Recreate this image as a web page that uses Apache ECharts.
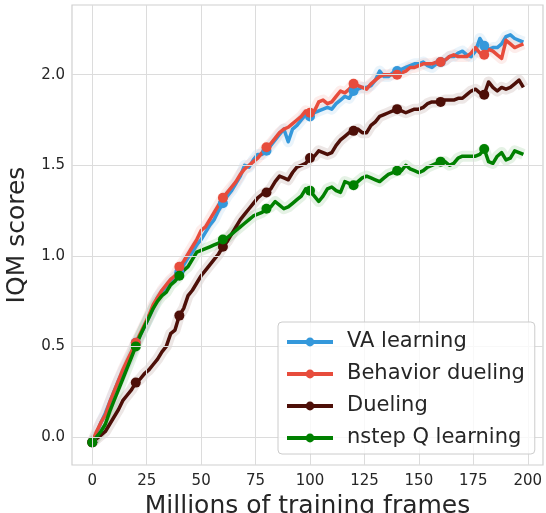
<!DOCTYPE html>
<html>
<head>
<meta charset="utf-8">
<script src="https://cdn.jsdelivr.net/npm/echarts@6/dist/echarts.min.js"></script>
<style>
  html, body { margin: 0; padding: 0; background: #fff; }
  #chart { width: 546px; height: 513px; }
</style>
</head>
<body>
<div id="chart"></div>
<script>
// Millions of training frames (0, 2, ..., 198)
const frames = [];
for (let i = 0; i < 100; i++) frames.push(i * 2);

const seriesNames = ['VA learning', 'Behavior dueling', 'Dueling', 'nstep Q learning'];

const vaLearning = [
  -0.03, 0.02, 0.08, 0.13, 0.19, 0.25, 0.31, 0.36, 0.41, 0.46,
  0.52, 0.56, 0.61, 0.66, 0.71, 0.77, 0.80, 0.83, 0.86, 0.88,
  0.91, 0.95, 0.99, 1.02, 1.06, 1.09, 1.13, 1.17, 1.20, 1.25,
  1.29, 1.33, 1.36, 1.40, 1.44, 1.50, 1.49, 1.53, 1.56, 1.56,
  1.58, 1.61, 1.64, 1.67, 1.70, 1.63, 1.70, 1.72, 1.75, 1.78,
  1.77, 1.79, 1.80, 1.81, 1.82, 1.81, 1.84, 1.86, 1.88, 1.87,
  1.91, 1.92, 1.93, 1.93, 1.94, 1.97, 2.02, 1.99, 1.99, 2.01,
  2.02, 2.03, 2.04, 2.05, 2.06, 2.06, 2.07, 2.05, 2.04, 2.06,
  2.07, 2.08, 2.10, 2.10, 2.12, 2.13, 2.11, 2.10, 2.13, 2.20,
  2.16, 2.14, 2.15, 2.15, 2.17, 2.21, 2.22, 2.20, 2.19, 2.18
];

const behaviorDueling = [
  -0.03, 0.03, 0.08, 0.12, 0.19, 0.25, 0.31, 0.37, 0.42, 0.47,
  0.52, 0.57, 0.62, 0.67, 0.73, 0.77, 0.81, 0.84, 0.87, 0.89,
  0.94, 0.97, 1.01, 1.05, 1.09, 1.14, 1.16, 1.20, 1.24, 1.28,
  1.32, 1.35, 1.38, 1.41, 1.45, 1.48, 1.50, 1.52, 1.54, 1.57,
  1.60, 1.62, 1.65, 1.68, 1.70, 1.71, 1.73, 1.75, 1.77, 1.80,
  1.79, 1.80, 1.85, 1.86, 1.84, 1.85, 1.88, 1.91, 1.90, 1.92,
  1.95, 1.94, 1.93, 1.92, 1.95, 1.97, 1.99, 2.00, 2.00, 2.00,
  2.00, 2.01, 2.02, 2.04, 2.04, 2.05, 2.06, 2.06, 2.06, 2.07,
  2.07, 2.08, 2.10, 2.11, 2.10, 2.10, 2.10, 2.12, 2.15, 2.12,
  2.11, 2.14, 2.13, 2.11, 2.09, 2.19, 2.17, 2.15, 2.16, 2.17
];

const dueling = [
  -0.03, -0.01, 0.01, 0.03, 0.07, 0.11, 0.15, 0.20, 0.23, 0.26,
  0.30, 0.32, 0.35, 0.37, 0.40, 0.43, 0.47, 0.50, 0.57, 0.59,
  0.67, 0.71, 0.78, 0.81, 0.85, 0.89, 0.92, 0.95, 0.98, 1.01,
  1.05, 1.08, 1.12, 1.16, 1.20, 1.23, 1.26, 1.29, 1.32, 1.34,
  1.35, 1.37, 1.41, 1.44, 1.43, 1.42, 1.46, 1.49, 1.50, 1.51,
  1.54, 1.55, 1.58, 1.57, 1.56, 1.57, 1.61, 1.64, 1.66, 1.68,
  1.69, 1.70, 1.68, 1.68, 1.72, 1.74, 1.77, 1.78, 1.79, 1.80,
  1.81, 1.80, 1.79, 1.80, 1.81, 1.81, 1.82, 1.84, 1.85, 1.85,
  1.85, 1.86, 1.86, 1.86, 1.87, 1.87, 1.89, 1.91, 1.92, 1.90,
  1.89, 1.96, 1.93, 1.91, 1.93, 1.92, 1.93, 1.95, 1.97, 1.93
];

const nstepQ = [
  -0.03, 0.00, 0.03, 0.07, 0.14, 0.20, 0.26, 0.32, 0.38, 0.44,
  0.50, 0.56, 0.61, 0.66, 0.71, 0.75, 0.78, 0.80, 0.84, 0.86,
  0.89, 0.92, 0.94, 0.98, 1.02, 1.03, 1.04, 1.05, 1.06, 1.07,
  1.09, 1.10, 1.12, 1.14, 1.16, 1.18, 1.20, 1.22, 1.23, 1.24,
  1.26, 1.27, 1.30, 1.28, 1.26, 1.27, 1.29, 1.31, 1.33, 1.37,
  1.36, 1.33, 1.30, 1.33, 1.37, 1.38, 1.36, 1.35, 1.41, 1.40,
  1.39, 1.41, 1.43, 1.44, 1.43, 1.42, 1.41, 1.43, 1.45, 1.46,
  1.47, 1.47, 1.50, 1.48, 1.47, 1.46, 1.47, 1.49, 1.50, 1.51,
  1.52, 1.52, 1.50, 1.51, 1.54, 1.55, 1.55, 1.55, 1.55, 1.56,
  1.59, 1.52, 1.51, 1.55, 1.57, 1.53, 1.54, 1.58, 1.57, 1.56
];

const xTicks = [0, 25, 50, 75, 100, 125, 150, 175, 200];
const yTicks = [0.0, 0.5, 1.0, 1.5, 2.0];

const colors = ['#3498db', '#e74c3c', '#4d0f08', '#008000'];
const allData = [vaLearning, behaviorDueling, dueling, nstepQ];

const FONT = 'DejaVu Sans';

function pairs(ys) { return frames.map((x, i) => [x, ys[i]]); }

const series = [];
// grid lines at the tick values
series.push({
  name: 'grid',
  type: 'line',
  data: [],
  silent: true,
  markLine: {
    silent: true,
    symbol: ['none', 'none'],
    animation: false,
    label: { show: false },
    lineStyle: { color: '#dcdcdc', width: 1, type: 'solid' },
    data: xTicks.map(v => ({ xAxis: v })).concat(yTicks.map(v => ({ yAxis: v })))
  }
});
allData.forEach((ys, k) => {
  // soft band behind each line
  series.push({
    name: seriesNames[k] + ' band',
    type: 'line',
    data: pairs(ys),
    showSymbol: false,
    silent: true,
    lineStyle: { color: colors[k], width: 11, opacity: 0.1, join: 'round' }
  });
});
allData.forEach((ys, k) => {
  series.push({
    name: seriesNames[k],
    type: 'line',
    data: pairs(ys),
    color: colors[k],
    symbol: 'circle',
    showAllSymbol: true,
    symbolSize: (v, p) => (p.dataIndex % 10 === 0 ? 10 : 0),
    itemStyle: { color: colors[k] },
    lineStyle: { color: colors[k], width: 3.5, join: 'round' }
  });
});

const chart = echarts.init(document.getElementById('chart'), null, { renderer: 'canvas' });
chart.setOption({
  animation: false,
  backgroundColor: '#ffffff',
  grid: {
    left: 72, top: 5, right: 3, bottom: 48,
    containLabel: false,
    outerBoundsMode: 'none',
    show: true, borderColor: '#d0d0d0', borderWidth: 1.2, backgroundColor: '#ffffff'
  },
  xAxis: {
    type: 'value',
    min: -9.3, max: 207,
    name: 'Millions of training frames',
    nameLocation: 'middle',
    nameGap: 21,
    nameTextStyle: { fontFamily: FONT, fontSize: 25, color: '#262626' },
    axisLine: { show: false },
    axisTick: { show: false, customValues: xTicks },
    splitLine: { show: false },
    axisLabel: {
      fontFamily: FONT, fontSize: 15, color: '#262626', margin: 9,
      customValues: xTicks,
      formatter: v => String(v)
    }
  },
  yAxis: {
    type: 'value',
    min: -0.155, max: 2.385,
    name: 'IQM scores',
    nameLocation: 'middle',
    nameGap: 27,
    nameTextStyle: { fontFamily: FONT, fontSize: 25, color: '#262626' },
    axisLine: { show: false },
    axisTick: { show: false, customValues: yTicks },
    splitLine: { show: false },
    axisLabel: {
      fontFamily: FONT, fontSize: 15, color: '#262626', margin: 7,
      customValues: yTicks,
      formatter: v => Number(v).toFixed(1)
    }
  },
  legend: {
    z: 20,
    data: seriesNames,
    orient: 'vertical',
    left: 278, top: 322,
    padding: [8, 10, 4, 7],
    itemWidth: 46,
    itemHeight: 11,
    itemGap: 8,
    backgroundColor: 'rgba(255,255,255,0.8)',
    borderColor: '#cccccc',
    borderWidth: 1,
    borderRadius: 4,
    lineStyle: { width: 4 },
    textStyle: {
      fontFamily: FONT, fontSize: 21, color: '#262626', lineHeight: 24,
      padding: [0, 0, 0, 9]
    }
  },
  series: series
});
</script>
</body>
</html>
